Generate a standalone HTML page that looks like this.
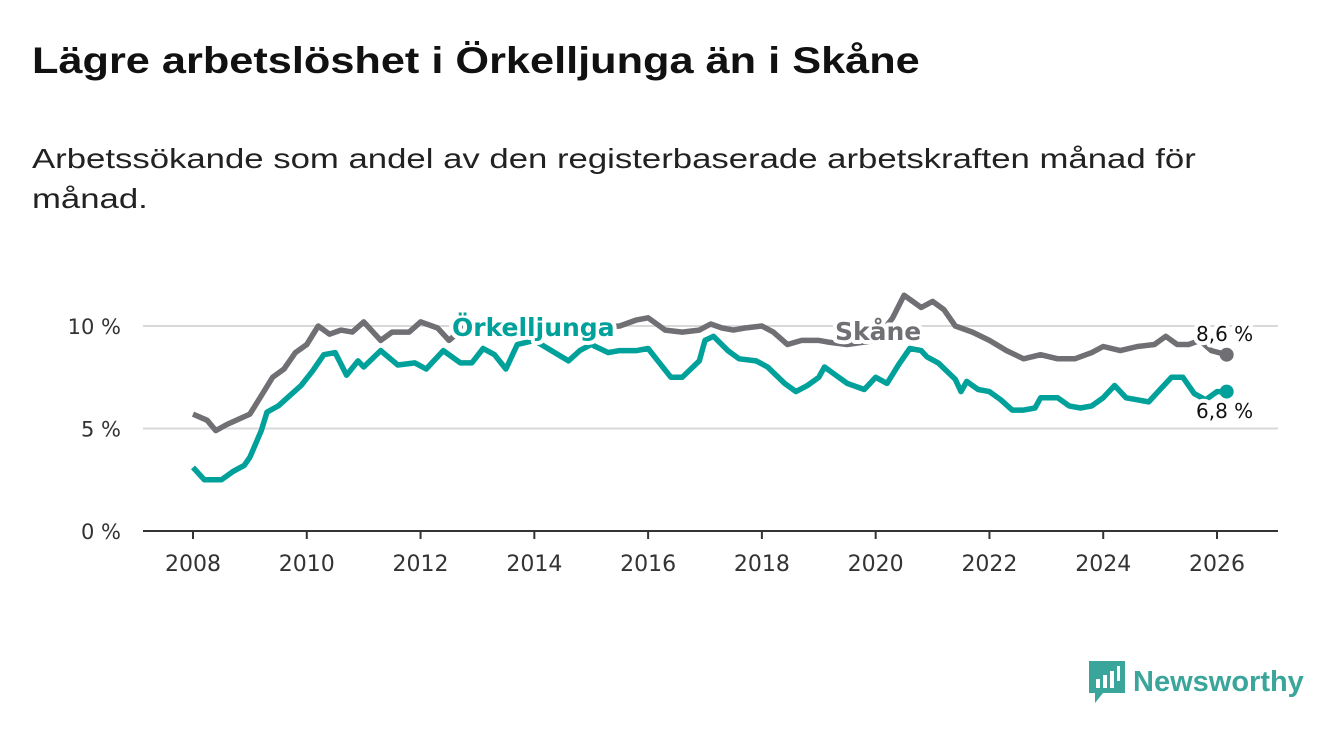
<!DOCTYPE html>
<html><head><meta charset="utf-8"><style>
body{margin:0;width:1340px;height:734px;background:#fff;font-family:"Liberation Sans",sans-serif;overflow:hidden;position:relative}
h1{position:absolute;left:32px;top:40px;margin:0;font-size:37px;font-weight:bold;color:#111;white-space:nowrap;transform:scaleX(1.17);transform-origin:left top}
p{position:absolute;left:32px;top:139px;margin:0;font-size:28px;line-height:40px;color:#222;white-space:nowrap;transform:scaleX(1.24);transform-origin:left top}
svg{position:absolute;left:0;top:0}
</style></head><body>
<h1>Lägre arbetslöshet i Örkelljunga än i Skåne</h1>
<p>Arbetssökande som andel av den registerbaserade arbetskraften månad för<br>månad.</p>
<svg id="c" width="1340" height="734"></svg>
<script>
const skaneYears=[2008,2008.25,2008.4,2008.6,2009,2009.2,2009.4,2009.6,2009.8,2010,2010.2,2010.4,2010.6,2010.8,2011,2011.3,2011.5,2011.8,2012,2012.3,2012.5,2012.8,2013.2,2013.6,2014,2014.5,2015,2015.5,2015.8,2016,2016.3,2016.6,2016.9,2017.1,2017.3,2017.5,2017.7,2018,2018.2,2018.45,2018.7,2019,2019.2,2019.5,2020,2020.3,2020.5,2020.8,2021,2021.2,2021.4,2021.7,2022,2022.3,2022.6,2022.9,2023.2,2023.5,2023.8,2024,2024.3,2024.6,2024.9,2025.1,2025.3,2025.5,2025.7,2025.9,2026.17];
const skaneValues=[5.7,5.4,4.9,5.2,5.7,6.6,7.5,7.9,8.7,9.1,10.0,9.6,9.8,9.7,10.2,9.3,9.7,9.7,10.2,9.9,9.3,10.0,10.2,10.0,10.1,10.0,9.9,10.0,10.3,10.4,9.8,9.7,9.8,10.1,9.9,9.8,9.9,10.0,9.7,9.1,9.3,9.3,9.2,9.1,9.3,10.4,11.5,10.9,11.2,10.8,10.0,9.7,9.3,8.8,8.4,8.6,8.4,8.4,8.7,9.0,8.8,9.0,9.1,9.5,9.1,9.1,9.3,8.8,8.6];
const orkYears=[2008,2008.2,2008.5,2008.7,2008.9,2009,2009.2,2009.3,2009.5,2009.7,2009.9,2010.1,2010.3,2010.5,2010.7,2010.9,2011,2011.3,2011.6,2011.9,2012.1,2012.4,2012.7,2012.9,2013.1,2013.3,2013.5,2013.7,2014,2014.6,2014.8,2015,2015.3,2015.5,2015.8,2016,2016.2,2016.4,2016.6,2016.9,2017,2017.15,2017.4,2017.6,2017.9,2018.1,2018.4,2018.6,2018.8,2019,2019.1,2019.3,2019.5,2019.8,2020,2020.2,2020.4,2020.6,2020.8,2020.9,2021.1,2021.4,2021.5,2021.6,2021.8,2022,2022.2,2022.4,2022.6,2022.8,2022.9,2023.2,2023.4,2023.6,2023.8,2024,2024.2,2024.4,2024.6,2024.8,2025,2025.2,2025.4,2025.6,2025.8,2026,2026.17];
const orkValues=[3.1,2.5,2.5,2.9,3.2,3.6,4.9,5.8,6.1,6.6,7.1,7.8,8.6,8.7,7.6,8.3,8.0,8.8,8.1,8.2,7.9,8.8,8.2,8.2,8.9,8.6,7.9,9.1,9.3,8.3,8.8,9.1,8.7,8.8,8.8,8.9,8.2,7.5,7.5,8.3,9.3,9.5,8.8,8.4,8.3,8.0,7.2,6.8,7.1,7.5,8.0,7.6,7.2,6.9,7.5,7.2,8.1,8.9,8.8,8.5,8.2,7.4,6.8,7.3,6.9,6.8,6.4,5.9,5.9,6.0,6.5,6.5,6.1,6.0,6.1,6.5,7.1,6.5,6.4,6.3,6.9,7.5,7.5,6.7,6.4,6.8,6.8];
const yTicks=[0,5,10];
const yTickLabels=["0 %","5 %","10 %"];
const xTicks=[2008,2010,2012,2014,2016,2018,2020,2022,2024,2026];
const NS="http://www.w3.org/2000/svg",svg=document.getElementById('c');
const X=y=>193+(y-2008)*(1217-193)/18, Y=v=>531-v*20.5;
function el(t,a,p){const e=document.createElementNS(NS,t);for(const k in a)e.setAttribute(k,a[k]);(p||svg).appendChild(e);return e;}
const TF='"DejaVu Sans",sans-serif';
yTicks.forEach((v,i)=>{
 if(v>0){const g=el('line',{x1:143,x2:1278,y1:Y(v),y2:Y(v),stroke:'#d9d9d9','stroke-width':2});
 
 }
 const t=el('text',{x:121,y:Y(v)+8,'text-anchor':'end','font-size':21,fill:'#333','font-family':TF});t.textContent=yTickLabels[i];
 
 
});
const ax=el('line',{x1:143,x2:1278,y1:531,y2:531,stroke:'#333','stroke-width':2});


xTicks.forEach(y=>{
 el('line',{x1:X(y),x2:X(y),y1:531,y2:539,stroke:'#333','stroke-width':2});
 const t=el('text',{x:X(y),y:571,'text-anchor':'middle','font-size':22,fill:'#333','font-family':TF});t.textContent=y;
 
 
});
function line(xs,vs,c,n){
 const p=el('path',{d:xs.map((x,i)=>(i?'L':'M')+X(x).toFixed(1)+','+Y(vs[i]).toFixed(1)).join(''),fill:'none',stroke:c,'stroke-width':5.5,'stroke-linejoin':'round'});
 
 
 const d=el('circle',{cx:X(xs[xs.length-1]),cy:Y(vs[vs.length-1]),r:7,fill:c});
 
 
}
line(skaneYears,skaneValues,'#706f74','skane-line');
line(orkYears,orkValues,'#00a19a','orkelljunga-line');
function lab(x,y,txt,c,n,w,fs){
 const t=el('text',{x:x,y:y,'font-size':fs||27,'font-weight':w||'bold',fill:c,stroke:'#fff','stroke-width':8,'paint-order':'stroke','stroke-linejoin':'round','font-family':TF});t.textContent=txt;
 
 
}
lab(452,336,'Örkelljunga','#00a19a','orkelljunga-label','bold',25);
lab(835,340,'Skåne','#706f74','skane-label','bold',25);
lab(1196,341,'8,6 %','#111','skane-end-value','normal',20);
lab(1196,418,'6,8 %','#111','orkelljunga-end-value','normal',20);
</script>
<div style="position:absolute;left:1089px;top:661px;display:flex;align-items:center">
<svg width="36" height="42" style="position:static"><path d="M0 0H36V32H14L6 42V32H0Z" fill="#3aa59a"/><rect x="7" y="18" width="4" height="9" fill="#fff"/><rect x="14" y="14" width="4" height="13" fill="#fff"/><rect x="21" y="10" width="4" height="17" fill="#fff"/><rect x="28" y="5" width="3" height="15" fill="#fff"/></svg>
<span style="font-size:29px;font-weight:bold;color:#3aa59a;margin-left:8px">Newsworthy</span></div>
</body></html>
